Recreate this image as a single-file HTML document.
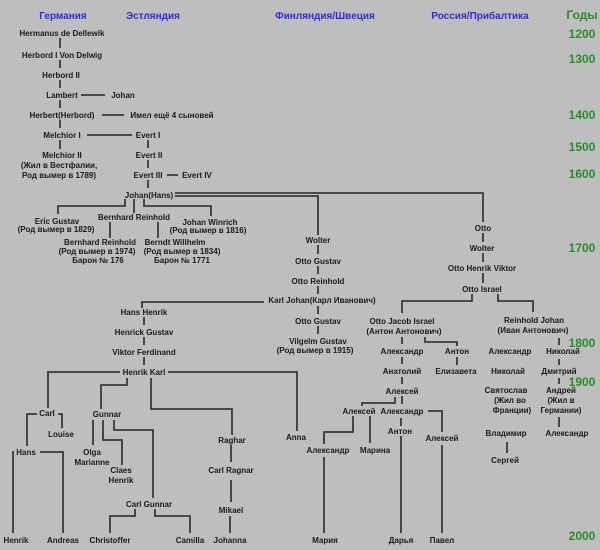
<!DOCTYPE html>
<html><head><meta charset="utf-8"><style>
html,body{margin:0;padding:0;background:#bebebe}
svg{display:block}
text{font-family:"Liberation Sans",sans-serif;font-weight:bold;font-size:8px;fill:#1a1a1a;text-anchor:middle}
.h{font-size:10px;fill:#2d2ddc}
.y{font-size:12px;fill:#2c8a2c}
path{fill:none;stroke:#3a3a3a;stroke-width:1.8}
</style></head><body>
<svg width="600" height="550" viewBox="0 0 600 550">
<rect width="600" height="550" fill="#bebebe"/>
<text class="h" x="63" y="19">Германия</text>
<text class="h" x="153" y="19">Эстляндия</text>
<text class="h" x="325" y="19">Финляндия/Швеция</text>
<text class="h" x="480" y="19">Россия/Прибалтика</text>
<text class="y" x="582" y="19">Годы</text>
<text class="y" x="582" y="38">1200</text>
<text class="y" x="582" y="63">1300</text>
<text class="y" x="582" y="119">1400</text>
<text class="y" x="582" y="151">1500</text>
<text class="y" x="582" y="178">1600</text>
<text class="y" x="582" y="252">1700</text>
<text class="y" x="582" y="347">1800</text>
<text class="y" x="582" y="386">1900</text>
<text class="y" x="582" y="540">2000</text>

<g>
<path d="M60 38V48M60 60V68M60 80V88M60 100V108M60 120V128M60 140V149"/>
<path d="M81 95H105M102 115H124M87 135H132M167 175H178"/>
<path d="M148 140V148M148 160V168M148 180V188"/>
<path d="M175 193H483V222M175 196H318V235"/>
<path d="M125 199V206H58V214M134 199V213M144 199V206H211V216M110 222V238M158 222V238"/>
<path d="M318 245V254M318 266V274M318 286V294M318 306V314M318 326V334"/>
<path d="M264 302H142V308"/>
<path d="M144 317V325M144 337V345M144 357V365"/>
<path d="M120 372H48V408M168 372H297V431"/>
<path d="M127 378V385H101V409M151 378V409H232V435"/>
<path d="M37 414H27V446M58 414H62V428"/>
<path d="M14 452H13V533M40 452H63V533"/>
<path d="M93 420V445M103 420V440H122V465M114 420V430H153V498"/>
<path d="M135 509V516H110V533M155 509V516H190V533"/>
<path d="M231 445V462M231 480V502M230 516V533"/>
<path d="M483 233V242M483 253V262M483 273V283"/>
<path d="M472 294V301H402V313M498 294V301H533V312"/>
<path d="M402 337V344M402 357V364M402 377V384M402 396V404M425 337V342H457V346M457 357V365"/>
<path d="M395 397V403H362V406M428 411H442V432M353 416V432H324V444M370 416V443"/>
<path d="M401 418V426M401 436V533M442 445V533M324 457V533"/>
<path d="M507 442V453M559 338V345M559 359V365M559 378V384M559 417V427"/>
</g>

<text x="62" y="36">Hermanus de Dellewik</text>
<text x="62" y="58">Herbord I Von Delwig</text>
<text x="61" y="78">Herbord II</text>
<text x="62" y="98">Lambert</text>
<text x="123" y="98">Johan</text>
<text x="62" y="118">Herbert(Herbord)</text>
<text x="172" y="118">Имел ещё 4 сыновей</text>
<text x="62" y="138">Melchior I</text>
<text x="148" y="138">Evert I</text>
<text x="62" y="158">Melchior II</text>
<text x="59" y="168">(Жил в Вестфалии,</text>
<text x="59" y="178">Род вымер в 1789)</text>
<text x="149" y="158">Evert II</text>
<text x="148" y="178">Evert III</text>
<text x="197" y="178">Evert IV</text>
<text x="149" y="198">Johan(Hans)</text>
<text x="57" y="224">Eric Gustav</text>
<text x="56" y="232">(Род вымер в 1829)</text>
<text x="134" y="220">Bernhard Reinhold</text>
<text x="210" y="225">Johan Winrich</text>
<text x="208" y="233">(Род вымер в 1816)</text>
<text x="100" y="245">Bernhard Reinhold</text>
<text x="97" y="254">(Род вымер в 1974)</text>
<text x="98" y="263">Барон № 176</text>
<text x="175" y="245">Berndt Willhelm</text>
<text x="182" y="254">(Род вымер в 1834)</text>
<text x="182" y="263">Барон № 1771</text>

<text x="318" y="243">Wolter</text>
<text x="318" y="264">Otto Gustav</text>
<text x="318" y="284">Otto Reinhold</text>
<text x="322" y="303">Karl Johan(Карл Иванович)</text>
<text x="318" y="324">Otto Gustav</text>
<text x="318" y="344">Vilgelm Gustav</text>
<text x="315" y="353">(Род вымер в 1915)</text>

<text x="144" y="315">Hans Henrik</text>
<text x="144" y="335">Henrick Gustav</text>
<text x="144" y="355">Viktor Ferdinand</text>
<text x="144" y="375">Henrik Karl</text>
<text x="47" y="416">Carl</text>
<text x="61" y="437">Louise</text>
<text x="26" y="455">Hans</text>
<text x="16" y="543">Henrik</text>
<text x="63" y="543">Andreas</text>
<text x="107" y="417">Gunnar</text>
<text x="92" y="455">Olga</text>
<text x="92" y="465">Marianne</text>
<text x="121" y="473">Claes</text>
<text x="121" y="483">Henrik</text>
<text x="149" y="507">Carl Gunnar</text>
<text x="110" y="543">Christoffer</text>
<text x="190" y="543">Camilla</text>
<text x="232" y="443">Raghar</text>
<text x="231" y="473">Carl Ragnar</text>
<text x="231" y="513">Mikael</text>
<text x="230" y="543">Johanna</text>
<text x="296" y="440">Anna</text>

<text x="483" y="231">Otto</text>
<text x="482" y="251">Wolter</text>
<text x="482" y="271">Otto  Henrik  Viktor</text>
<text x="482" y="292">Otto Israel</text>
<text x="402" y="324">Otto Jacob Israel</text>
<text x="404" y="334">(Антон Антонович)</text>
<text x="534" y="323">Reinhold Johan</text>
<text x="533" y="333">(Иван Антонович)</text>
<text x="402" y="354">Александр</text>
<text x="457" y="354">Антон</text>
<text x="402" y="374">Анатолий</text>
<text x="456" y="374">Елизавета</text>
<text x="402" y="394">Алексей</text>
<text x="359" y="414">Алексей</text>
<text x="402" y="414">Александр</text>
<text x="400" y="434">Антон</text>
<text x="442" y="441">Алексей</text>
<text x="328" y="453">Александр</text>
<text x="375" y="453">Марина</text>
<text x="325" y="543">Мария</text>
<text x="401" y="543">Дарья</text>
<text x="442" y="543">Павел</text>
<text x="510" y="354">Александр</text>
<text x="508" y="374">Николай</text>
<text x="506" y="393">Святослав</text>
<text x="510" y="403">(Жил во</text>
<text x="512" y="413">Франции)</text>
<text x="506" y="436">Владимир</text>
<text x="505" y="463">Сергей</text>
<text x="563" y="354">Николай</text>
<text x="559" y="374">Дмитрий</text>
<text x="561" y="393">Андрей</text>
<text x="561" y="403">(Жил в</text>
<text x="561" y="413">Германии)</text>
<text x="567" y="436">Александр</text>
</svg>
</body></html>
